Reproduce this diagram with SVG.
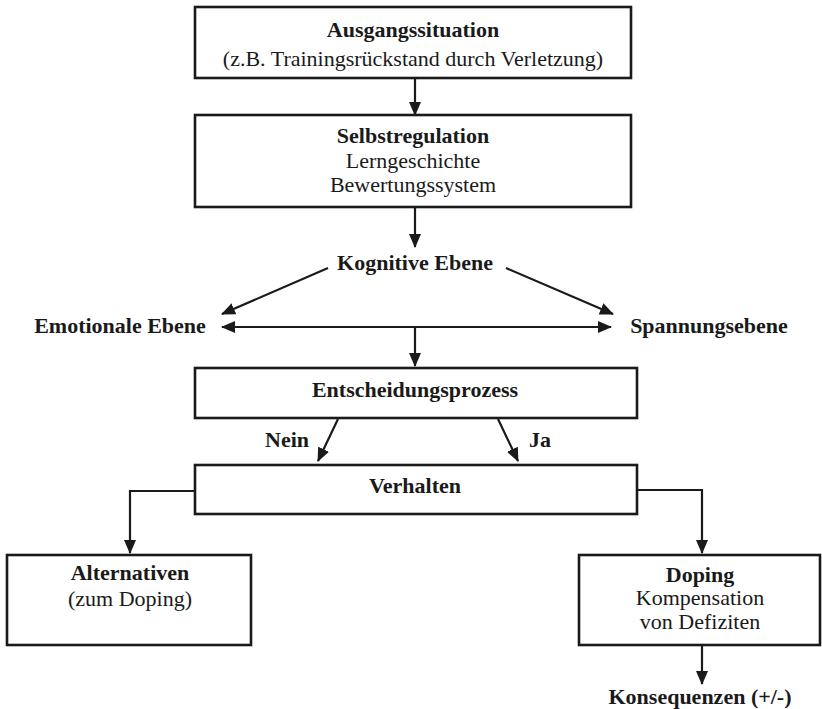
<svg xmlns="http://www.w3.org/2000/svg" width="822" height="709" viewBox="0 0 822 709">
<style>
  .box { fill: #ffffff; stroke: #1a1a1a; stroke-width: 2.6; }
  .t { font-family: "Liberation Serif", "Times New Roman", serif; font-size: 22px; fill: #1a1a1a; text-anchor: middle; }
  .b { font-weight: bold; }
  .c { fill: none; stroke: #1a1a1a; stroke-width: 2.2; }
</style>
<defs>
  <marker id="ah" markerUnits="userSpaceOnUse" markerWidth="14" markerHeight="12" viewBox="0 0 14 12" refX="13" refY="6" orient="auto-start-reverse">
    <path d="M0,0 L14,6 L0,12 Z" fill="#1a1a1a"/>
  </marker>
</defs>
<rect width="822" height="709" fill="#ffffff"/>

<g id="connectors">
  <line class="c" x1="415" y1="79" x2="415" y2="115" marker-end="url(#ah)"/>
  <line class="c" x1="415" y1="208" x2="415" y2="247" marker-end="url(#ah)"/>
  <line class="c" x1="328" y1="268" x2="222" y2="314" marker-end="url(#ah)"/>
  <line class="c" x1="506" y1="268" x2="613" y2="314" marker-end="url(#ah)"/>
  <line class="c" x1="222" y1="327" x2="611" y2="327" marker-start="url(#ah)" marker-end="url(#ah)"/>
  <line class="c" x1="415" y1="327" x2="415" y2="366" marker-end="url(#ah)"/>
  <line class="c" x1="338" y1="419" x2="318" y2="461" marker-end="url(#ah)"/>
  <line class="c" x1="498" y1="419" x2="518" y2="461" marker-end="url(#ah)"/>
  <polyline class="c" points="195,491 130,491 130,553" marker-end="url(#ah)"/>
  <polyline class="c" points="637,490 702,490 702,553" marker-end="url(#ah)"/>
  <line class="c" x1="702" y1="646" x2="702" y2="684" marker-end="url(#ah)"/>
</g>

<g id="ausgangssituation">
  <rect class="box" x="195" y="7" width="436" height="71"/>
  <text class="t b" x="413" y="37">Ausgangssituation</text>
  <text class="t" x="413" y="66">(z.B. Trainingsrückstand durch Verletzung)</text>
</g>

<g id="selbstregulation">
  <rect class="box" x="195" y="115" width="436" height="92"/>
  <text class="t b" x="413" y="143">Selbstregulation</text>
  <text class="t" x="413" y="168">Lerngeschichte</text>
  <text class="t" x="413" y="192">Bewertungssystem</text>
</g>

<g id="kognitive">
  <text class="t b" x="415" y="270">Kognitive Ebene</text>
</g>

<g id="emotionale">
  <text class="t b" x="120" y="333">Emotionale Ebene</text>
</g>

<g id="spannung">
  <text class="t b" x="709" y="333">Spannungsebene</text>
</g>

<g id="entscheidung">
  <rect class="box" x="195" y="368" width="442" height="50"/>
  <text class="t b" x="415" y="397">Entscheidungsprozess</text>
</g>

<g id="labels">
  <text class="t b" x="287" y="447">Nein</text>
  <text class="t b" x="540" y="447">Ja</text>
</g>

<g id="verhalten">
  <rect class="box" x="195" y="465" width="442" height="49"/>
  <text class="t b" x="415" y="493">Verhalten</text>
</g>

<g id="alternativen">
  <rect class="box" x="7" y="555" width="244" height="90"/>
  <text class="t b" x="130" y="580">Alternativen</text>
  <text class="t" x="130" y="606">(zum Doping)</text>
</g>

<g id="doping">
  <rect class="box" x="579" y="555" width="241" height="90"/>
  <text class="t b" x="700" y="582">Doping</text>
  <text class="t" x="700" y="605">Kompensation</text>
  <text class="t" x="700" y="629">von Defiziten</text>
</g>

<g id="konsequenzen">
  <text class="t b" x="700" y="704">Konsequenzen (+/-)</text>
</g>
</svg>
